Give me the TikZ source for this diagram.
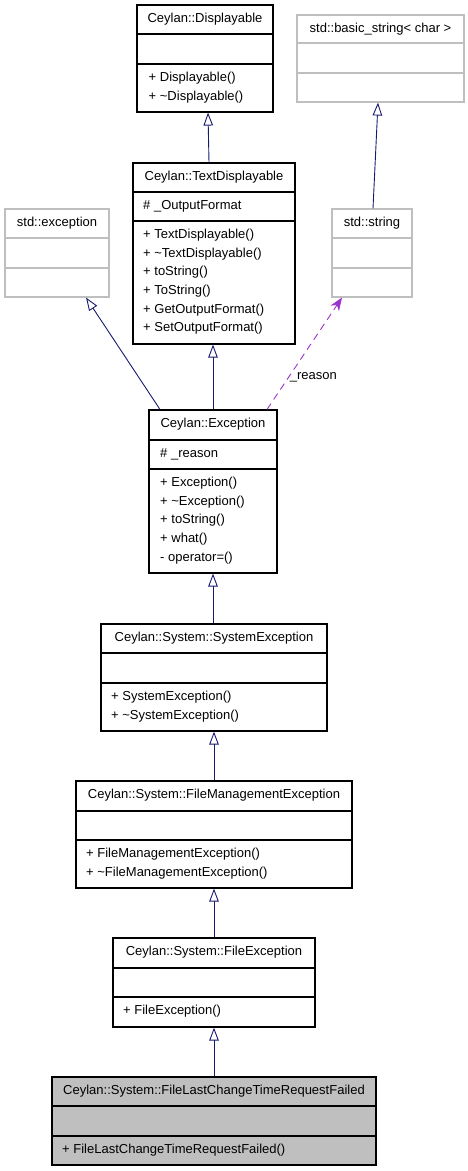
\documentclass[tikz,border=0pt]{standalone}
\usepackage{fontspec}
\setmainfont{Liberation Sans}
\usetikzlibrary{arrows.meta}
\definecolor{edgeblue}{HTML}{191970}
\definecolor{usepurple}{HTML}{9A32CD}
\definecolor{extgray}{HTML}{BFBFBF}
\tikzset{
  cls/.style={draw=black, line width=1.1pt, inner sep=0pt},
  extcls/.style={draw=extgray, line width=1.1pt, inner sep=0pt},
  focus/.style={cls, fill=extgray},
  sepline/.style={draw=black, line width=1.1pt},
  extsep/.style={draw=extgray, line width=1.1pt},
  lbl/.style={inner sep=0pt, font=\fontsize{13}{15}\selectfont},
  inh/.style={draw=edgeblue, line width=0.9pt, -{Triangle[open, length=13pt, width=9.5pt]}},
  usedby/.style={draw=usepurple, line width=0.9pt, dash pattern=on 7pt off 5pt, -{Stealth[length=13pt, width=10pt, inset=4pt]}}
}
\begin{document}
\begin{tikzpicture}[x=1pt, y=-1pt]
\useasboundingbox (0,0) rectangle (468,1171);

% Ceylan::Displayable
\node[cls, minimum width=136pt, minimum height=107pt] (disp) at (205,58.5) {};
\draw[sepline] (137,34) -- (273,34);
\draw[sepline] (137,64) -- (273,64);
\node[lbl, anchor=base] (disp-t) at (205,22.9) {Ceylan::Displayable};
\node[lbl, anchor=base west] (disp-m1) at (148.5,81.7) {+ Displayable()};
\node[lbl, anchor=base west] (disp-m2) at (148.5,100.2) {+ \textasciitilde Displayable()};

% std::basic_string< char >
\node[extcls, minimum width=167pt, minimum height=87pt] (bstr) at (380.5,58.5) {};
\draw[extsep] (297,43) -- (464,43);
\draw[extsep] (297,73) -- (464,73);
\node[lbl, anchor=base] (bstr-t) at (380.5,32.9) {std::basic\_string< char >};

% Ceylan::TextDisplayable
\node[cls, minimum width=162pt, minimum height=181pt] (textd) at (214,253.5) {};
\draw[sepline] (133,192) -- (295,192);
\draw[sepline] (133,221) -- (295,221);
\node[lbl, anchor=base] (textd-t) at (214,180.9) {Ceylan::TextDisplayable};
\node[lbl, anchor=base west] (textd-a1) at (143,209.7) {\# \_OutputFormat};
\node[lbl, anchor=base west] (textd-m1) at (143,238.7) {+ TextDisplayable()};
\node[lbl, anchor=base west] (textd-m2) at (143,257.3) {+ \textasciitilde TextDisplayable()};
\node[lbl, anchor=base west] (textd-m3) at (143,275.9) {+ toString()};
\node[lbl, anchor=base west] (textd-m4) at (143,294.5) {+ ToString()};
\node[lbl, anchor=base west] (textd-m5) at (143,313.1) {+ GetOutputFormat()};
\node[lbl, anchor=base west] (textd-m6) at (143,331.7) {+ SetOutputFormat()};

% std::exception
\node[extcls, minimum width=104pt, minimum height=88pt] (stdexc) at (57,253) {};
\draw[extsep] (5,238) -- (109,238);
\draw[extsep] (5,268) -- (109,268);
\node[lbl, anchor=base] (stdexc-t) at (57,226.9) {std::exception};

% std::string
\node[extcls, minimum width=80pt, minimum height=88pt] (str) at (372,253) {};
\draw[extsep] (332,238) -- (412,238);
\draw[extsep] (332,268) -- (412,268);
\node[lbl, anchor=base] (str-t) at (372,226.9) {std::string};

% Ceylan::Exception
\node[cls, minimum width=128pt, minimum height=163pt] (exc) at (213,491.5) {};
\draw[sepline] (149,440) -- (277,440);
\draw[sepline] (149,469) -- (277,469);
\node[lbl, anchor=base] (exc-t) at (213,427.9) {Ceylan::Exception};
\node[lbl, anchor=base west] (exc-a1) at (160,457.7) {\# \_reason};
\node[lbl, anchor=base west] (exc-m1) at (160,486.7) {+ Exception()};
\node[lbl, anchor=base west] (exc-m2) at (160,505.3) {+ \textasciitilde Exception()};
\node[lbl, anchor=base west] (exc-m3) at (160,523.9) {+ toString()};
\node[lbl, anchor=base west] (exc-m4) at (160,542.5) {+ what()};
\node[lbl, anchor=base west] (exc-m5) at (160,561.1) {- operator=()};

% Ceylan::System::SystemException
\node[cls, minimum width=226pt, minimum height=107pt] (sys) at (214,677.5) {};
\draw[sepline] (101,653) -- (327,653);
\draw[sepline] (101,683) -- (327,683);
\node[lbl, anchor=base] (sys-t) at (214,641.9) {Ceylan::System::SystemException};
\node[lbl, anchor=base west] (sys-m1) at (111,700.7) {+ SystemException()};
\node[lbl, anchor=base west] (sys-m2) at (111,719.2) {+ \textasciitilde SystemException()};

% Ceylan::System::FileManagementException
\node[cls, minimum width=276pt, minimum height=107pt] (fm) at (214,834.5) {};
\draw[sepline] (76,811) -- (352,811);
\draw[sepline] (76,840) -- (352,840);
\node[lbl, anchor=base] (fm-t) at (214,798.9) {Ceylan::System::FileManagementException};
\node[lbl, anchor=base west] (fm-m1) at (86,857.7) {+ FileManagementException()};
\node[lbl, anchor=base west] (fm-m2) at (86,876.2) {+ \textasciitilde FileManagementException()};

% Ceylan::System::FileException
\node[cls, minimum width=202pt, minimum height=89pt] (fe) at (214,982.5) {};
\draw[sepline] (113,968) -- (315,968);
\draw[sepline] (113,997) -- (315,997);
\node[lbl, anchor=base] (fe-t) at (214,955.9) {Ceylan::System::FileException};
\node[lbl, anchor=base west] (fe-m1) at (123,1014.7) {+ FileException()};

% Ceylan::System::FileLastChangeTimeRequestFailed
\node[focus, minimum width=324pt, minimum height=88pt] (fl) at (214,1121) {};
\draw[sepline] (52,1106) -- (376,1106);
\draw[sepline] (52,1136) -- (376,1136);
\node[lbl, anchor=base] (fl-t) at (214,1094.9) {Ceylan::System::FileLastChangeTimeRequestFailed};
\node[lbl, anchor=base west] (fl-m1) at (62,1153.7) {+ FileLastChangeTimeRequestFailed()};

% inheritance connectors
\draw[inh] ([xshift=-5pt]textd.north) -- ([xshift=3pt]disp.south);
\draw[inh] ([xshift=1pt]str.north) -- ([xshift=-2.5pt]bstr.south);
\draw[inh] ([xshift=-53pt]exc.north) -- ([xshift=29pt]stdexc.south);
\draw[inh] (exc.north) -- (exc.north |- textd.south);
\draw[inh] (sys.north -| exc.south) -- (exc.south);
\draw[inh] (fm.north -| sys.south) -- (sys.south);
\draw[inh] (fe.north -| fm.south) -- (fm.south);
\draw[inh] (fl.north -| fe.south) -- (fe.south);

% usage connector
\draw[usedby] ([xshift=54pt]exc.north) -- node[lbl, pos=0.265, anchor=base west, xshift=2.5pt] (reason) {\_reason} ([xshift=-30pt]str.south);
\end{tikzpicture}
\end{document}
